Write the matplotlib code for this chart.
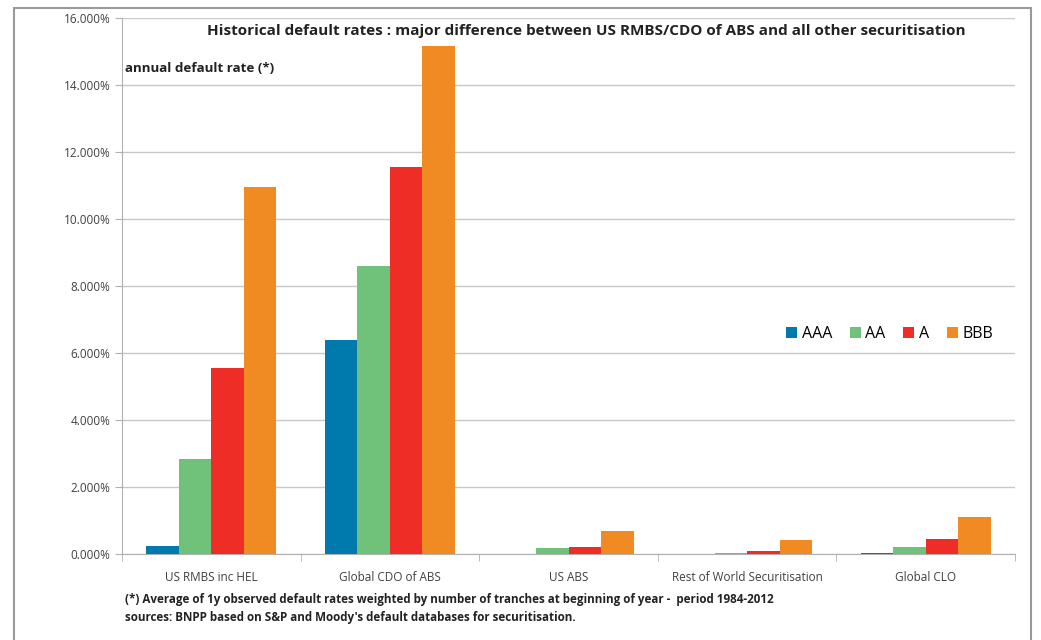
import numpy as np
import matplotlib.pyplot as plt
from matplotlib.patches import Rectangle
from matplotlib.ticker import FuncFormatter

categories = ["US RMBS inc HEL", "Global CDO of ABS", "US ABS",
              "Rest of World Securitisation", "Global CLO"]
ratings = ["AAA", "AA", "A", "BBB"]
rates = {
    "AAA": [0.25, 6.40, 0.00, 0.00, 0.04],
    "AA": [2.85, 8.60, 0.18, 0.02, 0.20],
    "A": [5.55, 11.55, 0.22, 0.08, 0.45],
    "BBB": [10.95, 15.15, 0.70, 0.42, 1.10],
}
colors = ["#0079ad", "#70c27a", "#ee2d27", "#ef8b22"]

plt.rcParams['font.family'] = ['Open Sans', 'DejaVu Sans']

fig = plt.figure(figsize=(10.41, 6.4), dpi=100)
# outer frame round the whole chart
fig.patches.append(Rectangle((14 / 1041, -0.01), (1031 - 14) / 1041, 1 - 8 / 640 + 0.01,
                             transform=fig.transFigure, fill=False,
                             edgecolor="#9a9a9a", linewidth=1.5))

ax = fig.add_axes([122 / 1041, 1 - 554 / 640, (1015 - 122) / 1041, (554 - 18) / 640])

x = np.arange(len(categories))
w = 0.182
for i, (r, c) in enumerate(zip(ratings, colors)):
    ax.bar(x + (i - 1.5) * w, rates[r], width=w, color=c, label=r, zorder=3)

ax.set_xlim(-0.5, len(categories) - 0.5)
ax.set_ylim(0, 16)
ax.set_yticks(np.arange(0, 17, 2))
ax.yaxis.set_major_formatter(FuncFormatter(lambda v, p: f"{v:.3f}%"))
ax.grid(axis="y", color="#c8c8c8", linewidth=1, zorder=0)

ax.set_xticks(x)
ax.set_xticklabels(categories)
ax.set_xticks(np.arange(-0.5, len(categories)), minor=True)
ax.tick_params(axis="x", which="major", length=0, pad=12, labelsize=8.5, colors="#404040")
ax.tick_params(axis="x", which="minor", length=5, color="#b0b0b0", direction="out")
ax.tick_params(axis="y", length=5, color="#b0b0b0", labelsize=8.5, colors="#404040")

for s in ["top", "right"]:
    ax.spines[s].set_visible(False)
ax.spines["left"].set_color("#b0b0b0")
ax.spines["bottom"].set_color("#b0b0b0")

ax.text(0.52, 0.975, "Historical default rates : major difference between US RMBS/CDO of ABS and all other securitisation",
        transform=ax.transAxes, ha="center", va="center", fontsize=11, fontweight="bold", color="#222222")
ax.text(0.003, 0.905, "annual default rate (*)", transform=ax.transAxes,
        ha="left", va="center", fontsize=9.6, fontweight="bold", color="#222222")

ax.legend(loc="center left", bbox_to_anchor=(0.727, 0.41), ncol=4, frameon=False,
          fontsize=11.5, handlelength=0.7, handleheight=0.7, handletextpad=0.3,
          columnspacing=1.1)

fig.text(125 / 1041, 1 - 600 / 640,
         "(*) Average of 1y observed default rates weighted by number of tranches at beginning of year -  period 1984-2012",
         ha="left", va="center", fontsize=8.4, fontweight="bold", color="#222222")
fig.text(125 / 1041, 1 - 617 / 640,
         "sources: BNPP based on S&P and Moody's default databases for securitisation.",
         ha="left", va="center", fontsize=8.4, fontweight="bold", color="#222222")

fig.savefig("out.png", dpi=100)
